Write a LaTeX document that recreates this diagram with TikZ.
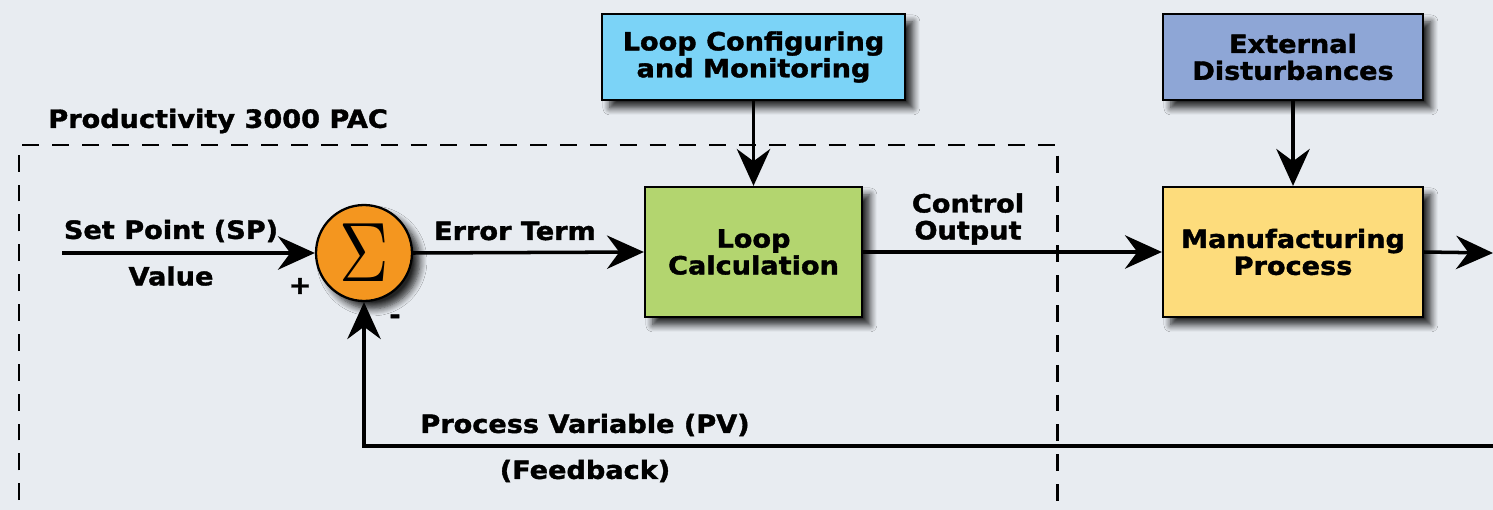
\documentclass[tikz,border=0pt]{standalone}
\usepackage{fontspec}
\newfontfamily\heavyfont{DejaVu Sans}[UprightFont={* Bold}, FakeStretch=1.08, FakeBold=1.5]
\usetikzlibrary{arrows.meta,shadows.blur}

\definecolor{bgcol}{HTML}{E8ECF1}
\definecolor{cfgcol}{HTML}{7BD3F7}
\definecolor{distcol}{HTML}{8EA6D6}
\definecolor{calccol}{HTML}{B3D56F}
\definecolor{proccol}{HTML}{FDDC7C}
\definecolor{sumcol}{HTML}{F4961F}

\begin{document}
\begin{tikzpicture}[x=0.02cm,y=-0.02cm,
  lbl/.style={font=\heavyfont\fontsize{14.3}{15.3}\selectfont, align=center, inner sep=0pt},
  shade box/.style={blur shadow={shadow xshift=4.5pt, shadow yshift=-4.5pt, shadow blur steps=8, shadow blur radius=4pt, shadow opacity=85}},
  blk/.style={draw=black, line width=1.3pt, lbl, shade box},
  wire/.style={line width=2pt, -{Stealth[length=21pt,width=19pt,inset=7pt]}},
  boundary/.style={line width=1.7pt, dash pattern=on 9.6pt off 7.4pt},
]
% canvas
\useasboundingbox (0,0) rectangle (1493,510);
\clip (0,0) rectangle (1493,510);
\fill[bgcol] (0,0) rectangle (1493,510);

% controller boundary (runs off the bottom)
\draw[boundary] (19,530) -- (19,145) -- (1057,145) -- (1057,530);
\node[lbl, anchor=west] (pac) at (48,121) {Productivity 3000 PAC};

% blocks
\node[blk, fill=cfgcol, minimum width=6.06cm, minimum height=1.72cm] (cfg) at (753.5,57) {Loop Configuring\\and Monitoring};
\node[blk, fill=distcol, minimum width=5.2cm, minimum height=1.72cm] (dist) at (1293,57) {External\\Disturbances};
\node[blk, fill=calccol, minimum width=4.34cm, minimum height=2.6cm] (calc) at (753.5,252) {Loop\\Calculation};
\node[blk, fill=proccol, minimum width=5.2cm, minimum height=2.6cm] (proc) at (1293,252) {Manufacturing\\Process};
\node[circle, draw=black, line width=1.3pt, fill=sumcol, minimum size=1.92cm, inner sep=0pt, shade box]
  (sum) at (364,253) {\scalebox{3.9}[4.8]{$\Sigma$}};

% free ends
\coordinate (spL) at (62,253);
\coordinate (outR) at (1493,253);
\coordinate (fbR) at (1500,446);

% connectors
\draw[wire] (spL) -- (sum.west);
\draw[wire] (sum.east) -- (calc.west);
\draw[wire] (calc.east) -- (proc.west);
\draw[wire] (proc.east) -- (outR);
\draw[wire] (cfg.south) -- (calc.north);
\draw[wire] (dist.south) -- (proc.north);
\draw[wire] (fbR) -| (sum.south);

% labels
\node[lbl] (sp) at (171,231) {Set Point (SP)};
\node[lbl] (val) at (171,276) {Value};
\node[lbl] (plus) at (300,286) {+};
\node[lbl] (minus) at (395,319) {-};
\node[lbl] (err) at (515,231) {Error Term};
\node[lbl] (co) at (968,219) {Control\\Output};
\node[lbl] (pv) at (585,425) {Process Variable (PV)};
\node[lbl] (fb) at (585,471) {(Feedback)};
\end{tikzpicture}
\end{document}
